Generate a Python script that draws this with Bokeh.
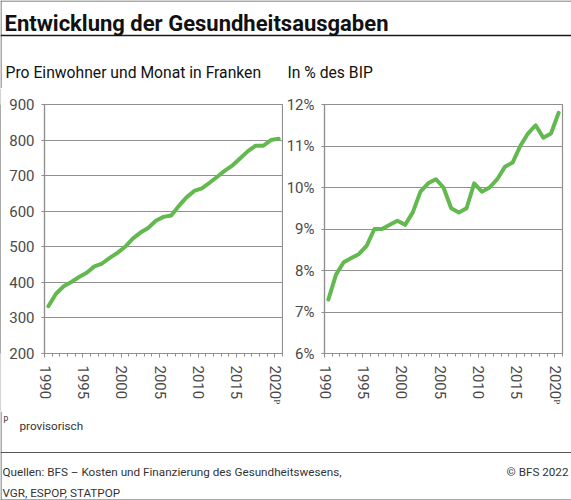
from bokeh.plotting import figure
from bokeh.layouts import column, row
from bokeh.models import Range1d, FixedTicker, PrintfTickFormatter
from bokeh.embed import file_html
from bokeh.resources import INLINE
from bokeh.core.properties import value

# ---------------- data ----------------
years = list(range(1990, 2021))
chf_per_month = [333, 368, 389, 401, 415, 427, 445, 453, 469, 483,
                 500, 523, 540, 553, 573, 584, 588, 615, 639, 657,
                 664, 680, 697, 714, 729, 749, 769, 784, 784, 800, 804]
pct_gdp = [7.3, 7.9, 8.2, 8.3, 8.4, 8.6, 9.0, 9.0, 9.1, 9.2,
           9.1, 9.4, 9.9, 10.1, 10.2, 10.0, 9.5, 9.4, 9.5, 10.1,
           9.9, 10.0, 10.2, 10.5, 10.6, 11.0, 11.3, 11.5, 11.2, 11.3, 11.8]
x_label_years = [1990, 1995, 2000, 2005, 2010, 2015, 2020]
x_label_text = {2020: "2020ᴾ"}
y_ticks_chf = [200, 300, 400, 500, 600, 700, 800, 900]
y_ticks_pct = [6, 7, 8, 9, 10, 11, 12]

title_text = "Entwicklung der Gesundheitsausgaben"
sub_left = "Pro Einwohner und Monat in Franken"
sub_right = "In % des BIP"
note_text = "provisorisch"
source_1 = "Quellen: BFS – Kosten und Finanzierung des Gesundheitswesens,"
source_2 = "VGR, ESPOP, STATPOP"
copyright_text = "© BFS 2022"

# ---------------- styles ----------------
GREEN = "#63b94f"
GRID = "#8f8f8f"
BORDER = "#555555"
TICKC = "#4a4a4a"
FONT = value("Roboto")
W = 571
HEAD_H = 88
ROW_H = 323
FOOT_H = 89


def canvas(w, h):
    c = figure(width=w, height=h, x_range=Range1d(0, w), y_range=Range1d(h, 0),
               output_backend="svg", toolbar_location=None, min_border=0,
               x_axis_location=None, y_axis_location=None)
    c.grid.visible = False
    c.outline_line_color = None
    return c


# header
head = canvas(W, HEAD_H)
head.segment(x0=[0], y0=[0.5], x1=[W], y1=[0.5], line_color=BORDER, line_width=1)
head.segment(x0=[0.5], y0=[0], x1=[0.5], y1=[HEAD_H], line_color=BORDER, line_width=1)
head.segment(x0=[0], y0=[35], x1=[W], y1=[35], line_color="#1a1a1a", line_width=1.6)
head.text(x=[4], y=[23], text=[title_text], text_font=FONT, text_font_size="22px",
          text_font_style="bold", text_baseline="alphabetic", text_color="#111111")
head.text(x=[5, 287], y=[72, 72], text=[sub_left, sub_right], text_font=FONT,
          text_font_size="15.7px", text_baseline="alphabetic", text_color="#111111")


def chart(vals, yticks, width, left, right, fmt=None):
    p = figure(width=width, height=ROW_H, x_range=Range1d(1990, 2021),
               y_range=Range1d(yticks[0], yticks[-1]),
               output_backend="svg", toolbar_location=None,
               min_border_left=left, min_border_right=right,
               min_border_top=16, min_border_bottom=58)
    p.line([y + 0.5 for y in years], vals, line_width=4, line_color=GREEN,
           line_join="round", line_cap="round")
    p.xgrid.visible = False
    p.ygrid.ticker = FixedTicker(ticks=yticks)
    p.ygrid.grid_line_color = GRID
    p.ygrid.grid_line_width = 1.2
    p.outline_line_color = GRID
    p.outline_line_width = 1.2
    p.background_fill_color = "white"
    p.border_fill_color = "white"

    xa = p.xaxis[0]
    xa.ticker = FixedTicker(ticks=x_label_years, minor_ticks=list(range(1990, 2022)))
    xa.major_label_overrides = x_label_text
    xa.major_label_orientation = "vertical"
    xa.major_label_standoff = 8
    xa.major_tick_out = 4
    xa.major_tick_in = 0
    xa.minor_tick_out = 3
    xa.minor_tick_in = 0

    ya = p.yaxis[0]
    ya.ticker = FixedTicker(ticks=yticks)
    ya.major_label_standoff = 7
    ya.major_tick_out = 3
    ya.major_tick_in = 0
    if fmt is not None:
        ya.formatter = fmt

    for ax in (xa, ya):
        ax.axis_line_color = GRID
        ax.axis_line_width = 1.2
        ax.major_tick_line_color = GRID
        ax.minor_tick_line_color = GRID if ax is xa else None
        ax.major_label_text_font = "Roboto"
        ax.major_label_text_font_size = "15px"
        ax.major_label_text_color = TICKC
    return p


edge = figure(width=1, height=ROW_H, output_backend="svg", toolbar_location=None,
              min_border=0, x_axis_location=None, y_axis_location=None)
edge.grid.visible = False
edge.outline_line_color = None
edge.background_fill_color = BORDER
edge.border_fill_color = BORDER

p1 = chart(chf_per_month, y_ticks_chf, 282, 43, 1)
p2 = chart(pct_gdp, y_ticks_pct, 288, 41, 9, PrintfTickFormatter(format="%d%%"))

# footer
foot = canvas(W, FOOT_H)
foot.segment(x0=[0.5], y0=[0], x1=[0.5], y1=[FOOT_H], line_color=BORDER, line_width=1)
foot.segment(x0=[0], y0=[41], x1=[W], y1=[41], line_color=BORDER, line_width=1.2)
foot.segment(x0=[0], y0=[88.5], x1=[W], y1=[88.5], line_color=BORDER, line_width=1)
foot.text(x=[3], y=[6], text=["p"], text_font=FONT, text_font_size="8.5px",
          text_baseline="middle", text_color="#333333")
foot.text(x=[19], y=[14], text=[note_text], text_font=FONT, text_font_size="11.7px",
          text_baseline="middle", text_color="#333333")
foot.text(x=[2, 2], y=[60, 81], text=[source_1, source_2], text_font=FONT,
          text_font_size="11.7px", text_baseline="middle", text_color="#333333")
foot.text(x=[568], y=[60], text=[copyright_text], text_font=FONT, text_font_size="11.7px",
          text_baseline="middle", text_align="right", text_color="#333333")

layout = column(head, row(edge, p1, p2), foot)
open("out.html", "w").write(file_html(layout, INLINE))
